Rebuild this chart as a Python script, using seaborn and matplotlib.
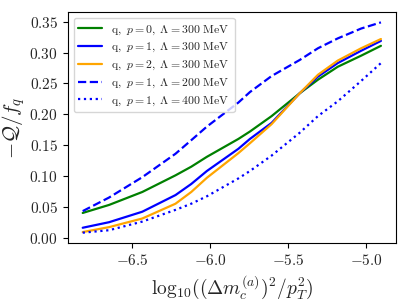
import numpy as np
import pandas as pd
import matplotlib
matplotlib.use("Agg")
import matplotlib.pyplot as plt
from matplotlib.ticker import FuncFormatter
import seaborn as sns

# values
log_ratio = [-6.816, -6.647, -6.434, -6.221, -6.12, -6.02, -5.818, -5.744, -5.605,
             -5.425, -5.308, -5.181, -5.031, -4.904]

q_p0_L300 = [0.040, 0.053, 0.074, 0.101, 0.115, 0.131, 0.160, 0.172, 0.197, 0.234, 0.256, 0.277, 0.295, 0.311]
q_p1_L300 = [0.016, 0.025, 0.042, 0.069, 0.087, 0.108, 0.144, 0.160, 0.186, 0.234, 0.261, 0.283, 0.303, 0.319]
q_p2_L300 = [0.009, 0.017, 0.031, 0.055, 0.074, 0.097, 0.137, 0.153, 0.184, 0.234, 0.264, 0.287, 0.307, 0.322]
q_p1_L200 = [0.043, 0.065, 0.098, 0.136, 0.158, 0.180, 0.219, 0.236, 0.262, 0.288, 0.307, 0.323, 0.339, 0.349]
q_p1_L400 = [0.008, 0.012, 0.026, 0.045, 0.055, 0.067, 0.096, 0.108, 0.133, 0.170, 0.197, 0.221, 0.254, 0.283]

labels = [r"$\mathrm{q},\ p=0,\ \Lambda=300\ \mathrm{MeV}$",
          r"$\mathrm{q},\ p=1,\ \Lambda=300\ \mathrm{MeV}$",
          r"$\mathrm{q},\ p=2,\ \Lambda=300\ \mathrm{MeV}$",
          r"$\mathrm{q},\ p=1,\ \Lambda=200\ \mathrm{MeV}$",
          r"$\mathrm{q},\ p=1,\ \Lambda=400\ \mathrm{MeV}$"]
series = [q_p0_L300, q_p1_L300, q_p2_L300, q_p1_L200, q_p1_L400]
colors = ["green", "blue", "orange", "blue", "blue"]
styles = ["-", "-", "-", "--", ":"]

sns.set_style("ticks")
plt.rcParams["mathtext.fontset"] = "cm"
plt.rcParams["font.family"] = ["DejaVu Serif"]

fig = plt.figure(figsize=(4.06, 3.04), dpi=100)
ax = fig.add_axes([0.167, 0.2, 0.808, 0.761])

for y, lab, c, ls in zip(series, labels, colors, styles):
    df = pd.DataFrame({"x": log_ratio, "y": y})
    sns.lineplot(data=df, x="x", y="y", ax=ax, color=c, lw=1.6, label=lab)
    ax.lines[-1].set_linestyle(ls)

for s in ax.spines.values():
    s.set_visible(True)
    s.set_linewidth(0.8)
    s.set_color("black")

ax.set_xticks([-6.5, -6.0, -5.5, -5.0])
ax.set_yticks(np.arange(0, 0.351, 0.05))
ax.xaxis.set_major_formatter(FuncFormatter(lambda v, p: r"$%.1f$" % v))
ax.yaxis.set_major_formatter(FuncFormatter(lambda v, p: r"$%.2f$" % v))
ax.tick_params(labelsize=11, length=3.5, width=0.8, color="black")

ax.set_xlabel(r"$\mathrm{log}_{10}((\Delta m_c^{(a)})^2/p_T^2)$", fontsize=14)
ax.set_ylabel(r"$-\mathcal{Q}/f_q$", fontsize=15)
ax.yaxis.set_label_coords(-0.125, 0.5)

ax.legend(loc="upper left", fontsize=8.5, frameon=True, fancybox=True,
          framealpha=0.8, edgecolor="#cccccc", handlelength=2.0,
          labelspacing=0.3)

fig.savefig("out.png", dpi=100)
